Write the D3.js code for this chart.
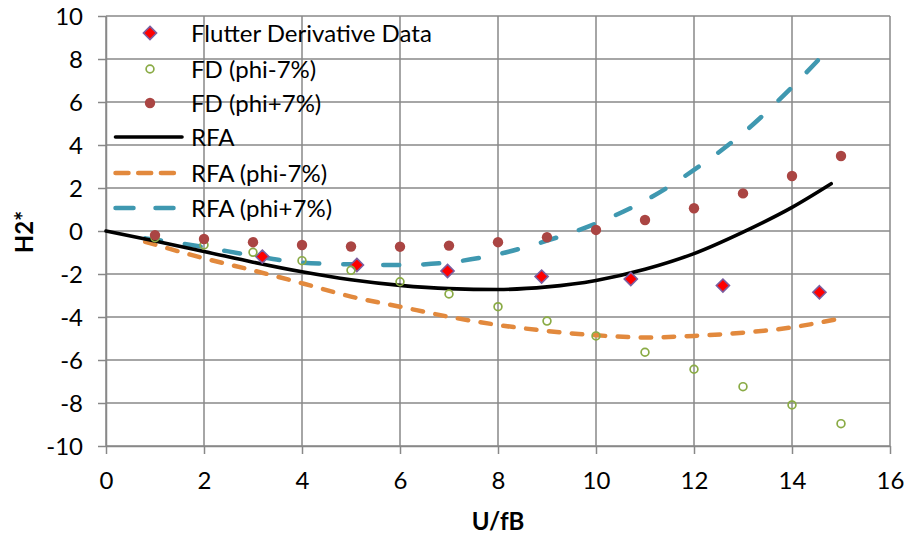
<!DOCTYPE html>
<html>
<head>
<meta charset="utf-8">
<script src="https://cdn.jsdelivr.net/npm/d3@7"></script>
<style>
  html, body { margin: 0; padding: 0; background: #fff; }
  svg { display: block; }
  text { font-family: Lato, "Open Sans", sans-serif; fill: #000; }
</style>
</head>
<body>
<svg id="chart" width="909" height="539"></svg>
<script>
// ---------- data ----------
const xTicks = [0, 2, 4, 6, 8, 10, 12, 14, 16];
const yTicks = [-10, -8, -6, -4, -2, 0, 2, 4, 6, 8, 10];

const fdX = [3.19, 5.12, 6.97, 8.89, 10.71, 12.59, 14.56];
const fdY = [-1.19, -1.58, -1.86, -2.12, -2.23, -2.54, -2.85];

const fdPhiX = [1, 2, 3, 4, 5, 6, 7, 8, 9, 10, 11, 12, 13, 14, 15];
const fdMinusY = [-0.31, -0.65, -0.99, -1.38, -1.83, -2.36, -2.93, -3.52, -4.19, -4.88, -5.64, -6.43, -7.24, -8.09, -8.96];
const fdPlusY = [-0.19, -0.37, -0.52, -0.65, -0.72, -0.73, -0.68, -0.52, -0.29, 0.05, 0.51, 1.06, 1.75, 2.56, 3.49];

const rfaX = [0, 1, 2, 3, 4, 5, 6, 7, 8, 9, 10, 11, 12, 13, 14, 14.8];
const rfaY = [0, -0.47, -0.95, -1.45, -1.9, -2.27, -2.53, -2.68, -2.72, -2.6, -2.3, -1.78, -1.05, -0.05, 1.1, 2.2];

const rfaMinusX = [0.8, 2, 3, 4, 5, 6, 7, 8, 9, 10, 11, 12, 13, 14, 14.9];
const rfaMinusY = [-0.5, -1.27, -1.83, -2.43, -3.05, -3.52, -3.99, -4.37, -4.65, -4.85, -4.95, -4.88, -4.73, -4.48, -4.11];

const rfaPlusX = [0.8, 2, 3, 4, 5, 6, 7, 8, 9, 10, 11, 12, 13, 14, 14.65];
const rfaPlusY = [-0.34, -0.75, -1.15, -1.47, -1.55, -1.58, -1.46, -1.08, -0.45, 0.35, 1.41, 2.84, 4.55, 6.69, 8.23];

const legendLabels = ["Flutter Derivative Data", "FD (phi-7%)", "FD (phi+7%)", "RFA", "RFA (phi-7%)", "RFA (phi+7%)"];

// ---------- layout ----------
const svg = d3.select("#chart");
const L = 106, R = 890, T = 16, B = 446;
const x = d3.scaleLinear().domain([0, 16]).range([L, R]);
const y = d3.scaleLinear().domain([-10, 10]).range([B, T]);
const FS = 24;
const gridColor = "#888888";
const fmt = d => String(d);

// gridlines
svg.append("g").selectAll("line.v").data(xTicks).join("line")
  .attr("x1", d => x(d)).attr("x2", d => x(d)).attr("y1", T).attr("y2", B)
  .attr("stroke", gridColor).attr("stroke-width", 1.5);
svg.append("g").selectAll("line.h").data(yTicks).join("line")
  .attr("x1", L).attr("x2", R).attr("y1", d => y(d)).attr("y2", d => y(d))
  .attr("stroke", gridColor).attr("stroke-width", 1.5);

// axes
const xAxis = svg.append("g").attr("transform", `translate(0,${B})`)
  .call(d3.axisBottom(x).tickValues(xTicks).tickSizeInner(8).tickSizeOuter(0).tickPadding(18).tickFormat(fmt));
const yAxis = svg.append("g").attr("transform", `translate(${L},0)`)
  .call(d3.axisLeft(y).tickValues(yTicks).tickSizeInner(8).tickSizeOuter(0).tickPadding(15).tickFormat(fmt));
[xAxis, yAxis].forEach(a => {
  a.select(".domain").attr("stroke", gridColor).attr("stroke-width", 1.5);
  a.selectAll(".tick line").attr("stroke", gridColor).attr("stroke-width", 1.5);
  a.selectAll(".tick text").attr("font-family", "Lato, sans-serif").attr("font-size", FS).attr("fill", "#000");
});
yAxis.selectAll(".tick text").attr("dy", "0.36em");

// axis titles
svg.append("text").attr("x", (L + R) / 2).attr("y", 530).attr("text-anchor", "middle")
  .attr("font-size", FS).attr("font-weight", "bold").text("U/fB");
svg.append("text").attr("transform", "translate(33,232) rotate(-90)").attr("text-anchor", "middle")
  .attr("font-size", FS).attr("font-weight", "bold").text("H2*");

// ---------- lines ----------
const line = d3.line().x(d => x(d[0])).y(d => y(d[1])).curve(d3.curveMonotoneX);
const lines = [
  { xs: rfaMinusX, ys: rfaMinusY, color: "#e2893d", width: 4.5, dash: "10.5,12.5" },
  { xs: rfaPlusX, ys: rfaPlusY, color: "#3f98b0", width: 4.5, dash: "16,24" },
  { xs: rfaX, ys: rfaY, color: "#000000", width: 3.6, dash: null }
];
lines.forEach(s => {
  svg.append("path").datum(s.xs.map((v, i) => [v, s.ys[i]]))
    .attr("d", line).attr("fill", "none").attr("stroke", s.color)
    .attr("stroke-width", s.width).attr("stroke-linecap", "round")
    .attr("stroke-dasharray", s.dash);
});

// ---------- markers ----------
const diamond = d3.symbol().type(d3.symbolDiamond2).size(110);
function drawDiamond(g, cx, cy) {
  g.append("path").attr("d", diamond()).attr("transform", `translate(${cx},${cy})`)
    .attr("fill", "#ff0000").attr("stroke", "#7b5ea0").attr("stroke-width", 1.6);
}
const gD = svg.append("g");
fdX.forEach((v, i) => drawDiamond(gD, x(v), y(fdY[i])));

svg.append("g").selectAll("circle").data(fdPhiX).join("circle")
  .attr("cx", d => x(d)).attr("cy", (d, i) => y(fdMinusY[i])).attr("r", 3.9)
  .attr("fill", "none").attr("stroke", "#8aab45").attr("stroke-width", 1.7);

svg.append("g").selectAll("circle").data(fdPhiX).join("circle")
  .attr("cx", d => x(d)).attr("cy", (d, i) => y(fdPlusY[i])).attr("r", 5.2)
  .attr("fill", "#aa4543");

// ---------- legend ----------
const legY = [33, 69, 103, 137, 173, 208];
const lg = svg.append("g");
legendLabels.forEach((t, i) => {
  lg.append("text").attr("x", 191).attr("y", legY[i]).attr("dy", "0.36em")
    .attr("font-size", FS).text(t);
});
drawDiamond(lg, 150, legY[0]);
lg.append("circle").attr("cx", 150).attr("cy", legY[1]).attr("r", 3.9)
  .attr("fill", "none").attr("stroke", "#8aab45").attr("stroke-width", 1.7);
lg.append("circle").attr("cx", 150).attr("cy", legY[2]).attr("r", 5.2).attr("fill", "#aa4543");
const legLines = [
  { i: 3, color: "#000000", width: 3.6, dash: null, x2: 182 },
  { i: 4, color: "#e2893d", width: 4.5, dash: "13,9.7", x2: 174 },
  { i: 5, color: "#3f98b0", width: 4.5, dash: "18,22", x2: 174 }
];
legLines.forEach(s => {
  lg.append("line").attr("x1", 115.5).attr("x2", s.x2).attr("y1", legY[s.i]).attr("y2", legY[s.i])
    .attr("stroke", s.color).attr("stroke-width", s.width).attr("stroke-linecap", "round")
    .attr("stroke-dasharray", s.dash);
});
</script>
</body>
</html>
